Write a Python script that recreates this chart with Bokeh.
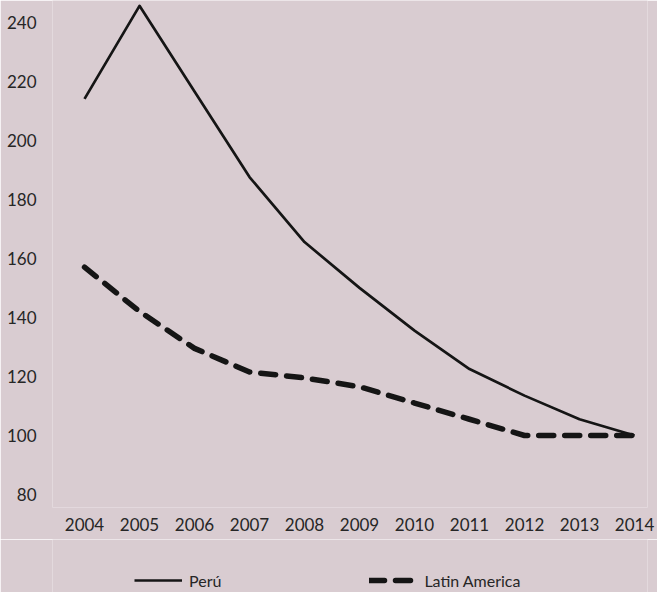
from bokeh.plotting import figure
from bokeh.layouts import column
from bokeh.models import Range1d, Legend, LegendItem, FixedTicker
from bokeh.embed import file_html
from bokeh.resources import INLINE

years = [2004, 2005, 2006, 2007, 2008, 2009, 2010, 2011, 2012, 2013, 2014]
peru = [214, 245.5, 216.5, 187.5, 165.5, 150, 135.5, 122.5, 113.5, 105.5, 100]
latin_america = [157, 142, 129.5, 121.5, 119.5, 116.5, 111, 105.5, 100, 100, 100]
y_ticks = [80, 100, 120, 140, 160, 180, 200, 220, 240]
series_names = ["Perú", "Latin America"]

BG = "#d9ccd1"
TXT = "#262626"
INK = "#151515"
FONT = "Lato"
solid = dict(line_color=INK, line_width=2.7, line_join="round")
dashed = dict(line_color=INK, line_width=5.5, line_dash="15 11", line_cap="round", line_join="round")

p = figure(width=657, height=539, output_backend="svg", toolbar_location=None,
           x_range=Range1d(2003.418, 2014.236), y_range=Range1d(75.62, 247.3),
           min_border_left=52, min_border_right=10, min_border_top=0, min_border_bottom=32,
           background_fill_color=BG, border_fill_color=BG)
p.outline_line_color = None
p.grid.visible = False

p.line(years, peru, **solid)
p.line(years, latin_america, **dashed)

for ax in (p.xaxis[0], p.yaxis[0]):
    ax.axis_line_color = None
    ax.major_tick_line_color = None
    ax.minor_tick_line_color = None
    ax.major_tick_out = 0
    ax.minor_tick_out = 0
    ax.major_label_text_font = FONT
    ax.major_label_text_font_size = "17px"
    ax.major_label_text_color = TXT

p.xaxis.ticker = FixedTicker(ticks=years)
p.xaxis.major_label_standoff = 10
p.yaxis.ticker = FixedTicker(ticks=y_ticks)
p.yaxis.major_label_standoff = 16

# legend strip below the chart (its series lie outside its ranges, only the key shows)
lg = figure(width=657, height=53, output_backend="svg", toolbar_location=None,
            x_range=Range1d(0, 1), y_range=Range1d(0, 1),
            x_axis_type=None, y_axis_type=None,
            min_border_left=0, min_border_right=0, min_border_top=0, min_border_bottom=0,
            background_fill_color=BG, border_fill_color=BG)
lg.outline_line_color = None
lg.grid.visible = False
k1 = lg.line(years, peru, **solid)
k2 = lg.line(years, latin_america, **dashed)

legend = Legend(items=[LegendItem(label=series_names[0], renderers=[k1]),
                       LegendItem(label=series_names[1], renderers=[k2])],
                location=(82, 2), orientation="horizontal",
                glyph_width=48, glyph_height=20, label_standoff=7, spacing=148,
                padding=0, margin=0, border_line_color=None, background_fill_alpha=0,
                label_text_font=FONT, label_text_font_size="16px", label_text_color=TXT)
lg.add_layout(legend, "center")

open("out.html", "w").write(file_html(column(p, lg, spacing=0), INLINE))
